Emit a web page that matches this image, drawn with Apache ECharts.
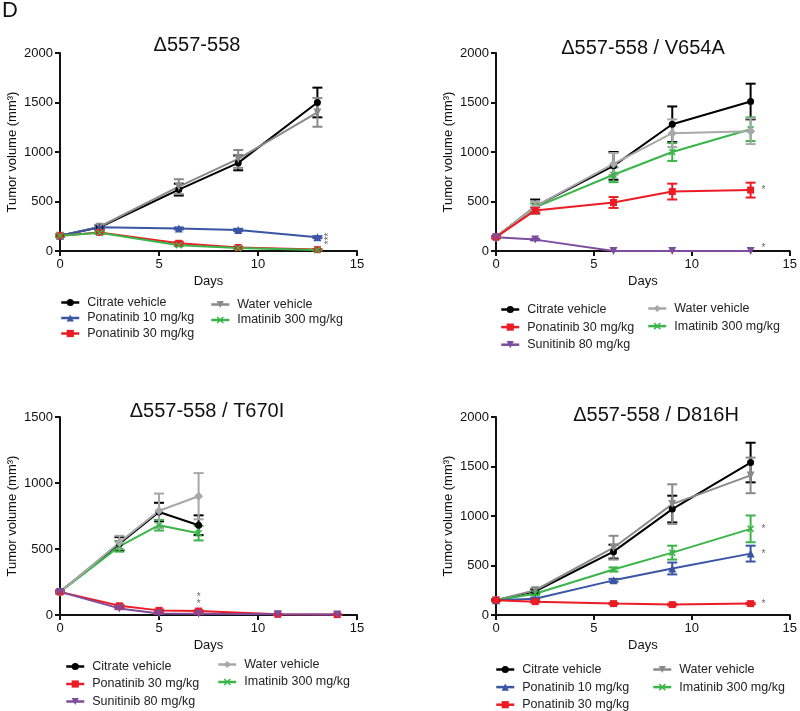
<!DOCTYPE html>
<html>
<head>
    <meta charset="utf-8">
    <title>Tumor volume - KIT mutants</title>
    <script src="https://cdn.jsdelivr.net/npm/echarts@6/dist/echarts.min.js"></script>
    <style>
        html, body { margin: 0; padding: 0; background: #fff; }
        #main { width: 800px; height: 711px; }
    </style>
</head>
<body>
    <div id="main"></div>

    <script>
    // ---- data ----
    // panel 1: Δ557-558
    const p1Days = [0, 2, 6, 9, 13];
    const p1Citrate = [155, 240, 620, 890, 1500];
    const p1CitrateErr = [10, 20, 60, 75, 150];
    const p1Water = [155, 245, 650, 930, 1400];
    const p1WaterErr = [10, 20, 75, 90, 145];
    const p1Pon10 = [155, 240, 228, 212, 140];
    const p1Pon10Err = [8, 12, 10, 12, 10];
    const p1Pon30 = [155, 188, 78, 35, 14];
    const p1Pon30Err = [8, 15, 15, 10, 5];
    const p1Ima = [155, 185, 58, 30, 10];
    const p1ImaErr = [8, 12, 10, 8, 4];
    const p1Stars = [[13.6, 128, '***']];

    // panel 2: Δ557-558 / V654A
    const p2Days = [0, 2, 6, 9, 13];
    const p2Citrate = [140, 450, 860, 1280, 1510];
    const p2CitrateErr = [10, 70, 140, 180, 180];
    const p2Water = [140, 450, 880, 1190, 1210];
    const p2WaterErr = [10, 50, 110, 140, 130];
    const p2Ima = [140, 440, 770, 1000, 1230];
    const p2ImaErr = [10, 40, 75, 90, 120];
    const p2Pon30 = [140, 410, 490, 600, 615];
    const p2Pon30Err = [10, 30, 55, 80, 75];
    const p2Suni = [140, 115, 0, 0, 0];
    const p2SuniErr = [8, 8, 0, 0, 0];
    const p2Stars = [[13.65, 612, '*'], [13.65, 30, '*']];

    // panel 3: Δ557-558 / T670I
    const p3DaysA = [0, 3, 5, 7];
    const p3DaysB = [0, 3, 5, 7, 11, 14];
    const p3Citrate = [175, 540, 780, 680];
    const p3CitrateErr = [10, 50, 70, 75];
    const p3Water = [175, 550, 790, 900];
    const p3WaterErr = [10, 50, 130, 175];
    const p3Ima = [175, 520, 680, 620];
    const p3ImaErr = [10, 40, 40, 55];
    const p3Pon30 = [175, 70, 35, 30, 5, 3];
    const p3Pon30Err = [8, 8, 6, 6, 3, 2];
    const p3Suni = [175, 50, 12, 10, 5, 3];
    const p3SuniErr = [8, 6, 4, 4, 2, 2];
    const p3Stars = [[7, 132, '*'], [7, 80, '*']];

    // panel 4: Δ557-558 / D816H
    const p4Days = [0, 2, 6, 9, 13];
    const p4Citrate = [150, 240, 640, 1070, 1540];
    const p4CitrateErr = [10, 20, 70, 135, 200];
    const p4Water = [150, 250, 680, 1120, 1410];
    const p4WaterErr = [10, 20, 120, 200, 180];
    const p4Ima = [150, 215, 460, 630, 870];
    const p4ImaErr = [8, 12, 20, 70, 135];
    const p4Pon10 = [150, 165, 350, 470, 620];
    const p4Pon10Err = [8, 10, 15, 60, 80];
    const p4Pon30 = [150, 135, 115, 105, 115];
    const p4Pon30Err = [8, 8, 8, 8, 8];
    const p4Stars = [[13.65, 870, '*'], [13.65, 618, '*'], [13.65, 112, '*']];

    const panelTitles = ['Δ557-558', 'Δ557-558 / V654A', 'Δ557-558 / T670I', 'Δ557-558 / D816H'];
    const xTicks = [0, 15, 5];          // min, max, interval
    const yMaxes = [2000, 2000, 1500, 2000];

    // ---- styles ----
    const C = {
        black: '#000000',
        gray: '#8a8a8a',
        lightGray: '#a8a8a8',
        blue: '#3a55a4',
        red: '#ec1c24',
        green: '#3ab54a',
        purple: '#7d4c9d'
    };
    const SYM = {
        down: 'path://M0,0L10,0L5,10Z',
        cross: 'path://M0,1.5L1.5,0L5,3.5L8.5,0L10,1.5L6.5,5L10,8.5L8.5,10L5,6.5L1.5,10L0,8.5L3.5,5Z'
    };
    const grids = [
        { left: 60, top: 53, width: 297, height: 198 },
        { left: 496, top: 53, width: 296, height: 198 },
        { left: 60, top: 417, width: 297, height: 198 },
        { left: 496, top: 417, width: 296, height: 198 }
    ];

    const series = [];

    function addLine(panel, name, days, vals, errs, color, symbol, size) {
        series.push({
            name: 'p' + panel + '|' + name,
            type: 'line',
            xAxisIndex: panel - 1,
            yAxisIndex: panel - 1,
            data: days.map((d, i) => [d, vals[i]]),
            symbol: symbol,
            symbolSize: size,
            showAllSymbol: true,
            lineStyle: { color: color, width: 2 },
            itemStyle: { color: color },
            z: 3
        });
        series.push({
            type: 'custom',
            xAxisIndex: panel - 1,
            yAxisIndex: panel - 1,
            data: days.map((d, i) => [d, vals[i], errs[i]]),
            itemStyle: { color: color },
            z: 2,
            renderItem: function (params, api) {
                const x = api.value(0), y = api.value(1), e = api.value(2);
                if (!e) return;
                const top = api.coord([x, y + e]);
                const bot = api.coord([x, Math.max(y - e, 0)]);
                const w = 5;
                const st = { stroke: color, lineWidth: 2 };
                return {
                    type: 'group',
                    children: [
                        { type: 'line', shape: { x1: top[0], y1: top[1], x2: bot[0], y2: bot[1] }, style: st },
                        { type: 'line', shape: { x1: top[0] - w, y1: top[1], x2: top[0] + w, y2: top[1] }, style: st },
                        { type: 'line', shape: { x1: bot[0] - w, y1: bot[1], x2: bot[0] + w, y2: bot[1] }, style: st }
                    ]
                };
            }
        });
    }

    function addStars(panel, stars, rotate) {
        series.push({
            type: 'scatter',
            xAxisIndex: panel - 1,
            yAxisIndex: panel - 1,
            data: stars,
            symbolSize: 1,
            itemStyle: { color: 'rgba(0,0,0,0)' },
            silent: true,
            label: {
                show: true,
                position: 'inside',
                formatter: p => p.value[2],
                fontSize: 10,
                color: '#444',
                rotate: rotate || 0,
                fontFamily: 'Liberation Sans, Arial, sans-serif'
            },
            z: 4
        });
    }

    // panel 1
    addLine(1, 'Citrate vehicle', p1Days, p1Citrate, p1CitrateErr, C.black, 'circle', 7);
    addLine(1, 'Water vehicle', p1Days, p1Water, p1WaterErr, C.gray, SYM.down, 8);
    addLine(1, 'Ponatinib 10 mg/kg', p1Days, p1Pon10, p1Pon10Err, C.blue, 'triangle', 8);
    addLine(1, 'Ponatinib 30 mg/kg', p1Days, p1Pon30, p1Pon30Err, C.red, 'rect', 7);
    addLine(1, 'Imatinib 300 mg/kg', p1Days, p1Ima, p1ImaErr, C.green, SYM.cross, 7);
    addStars(1, p1Stars, 90);

    // panel 2
    addLine(2, 'Citrate vehicle', p2Days, p2Citrate, p2CitrateErr, C.black, 'circle', 7);
    addLine(2, 'Imatinib 300 mg/kg', p2Days, p2Ima, p2ImaErr, C.green, SYM.cross, 7);
    addLine(2, 'Water vehicle', p2Days, p2Water, p2WaterErr, C.lightGray, 'diamond', 9);
    addLine(2, 'Ponatinib 30 mg/kg', p2Days, p2Pon30, p2Pon30Err, C.red, 'rect', 7);
    addLine(2, 'Sunitinib 80 mg/kg', p2Days, p2Suni, p2SuniErr, C.purple, SYM.down, 8);
    addStars(2, p2Stars);

    // panel 3
    addLine(3, 'Citrate vehicle', p3DaysA, p3Citrate, p3CitrateErr, C.black, 'circle', 7);
    addLine(3, 'Imatinib 300 mg/kg', p3DaysA, p3Ima, p3ImaErr, C.green, SYM.cross, 7);
    addLine(3, 'Water vehicle', p3DaysA, p3Water, p3WaterErr, C.lightGray, 'diamond', 9);
    addLine(3, 'Ponatinib 30 mg/kg', p3DaysB, p3Pon30, p3Pon30Err, C.red, 'rect', 7);
    addLine(3, 'Sunitinib 80 mg/kg', p3DaysB, p3Suni, p3SuniErr, C.purple, SYM.down, 8);
    addStars(3, p3Stars);

    // panel 4
    addLine(4, 'Citrate vehicle', p4Days, p4Citrate, p4CitrateErr, C.black, 'circle', 7);
    addLine(4, 'Water vehicle', p4Days, p4Water, p4WaterErr, C.gray, SYM.down, 8);
    addLine(4, 'Imatinib 300 mg/kg', p4Days, p4Ima, p4ImaErr, C.green, SYM.cross, 7);
    addLine(4, 'Ponatinib 10 mg/kg', p4Days, p4Pon10, p4Pon10Err, C.blue, 'triangle', 8);
    addLine(4, 'Ponatinib 30 mg/kg', p4Days, p4Pon30, p4Pon30Err, C.red, 'rect', 7);
    addStars(4, p4Stars);

    const FONT = 'Liberation Sans, Arial, sans-serif';
    const axisColor = '#111';

    const xAxes = grids.map((g, i) => ({
        type: 'value',
        gridIndex: i,
        min: xTicks[0], max: xTicks[1], interval: xTicks[2],
        name: 'Days',
        nameLocation: 'middle',
        nameGap: 24,
        nameTextStyle: { fontSize: 13, color: axisColor, fontFamily: FONT },
        axisLine: { onZero: false, lineStyle: { color: axisColor, width: 2 } },
        axisTick: { show: true, inside: false, length: 5, lineStyle: { width: 2, color: axisColor } },
        axisLabel: { fontSize: 13, color: axisColor, margin: 7, fontFamily: FONT, formatter: v => String(v) },
        splitLine: { show: false }
    }));

    const yAxes = grids.map((g, i) => ({
        type: 'value',
        gridIndex: i,
        min: 0, max: yMaxes[i], interval: 500,
        name: 'Tumor volume (mm³)',
        nameLocation: 'middle',
        nameGap: 41,
        nameRotate: 90,
        nameTextStyle: { fontSize: 13, color: axisColor, fontFamily: FONT },
        axisLine: { show: true, onZero: false, lineStyle: { color: axisColor, width: 2 } },
        axisTick: { show: true, inside: false, length: 5, lineStyle: { width: 2, color: axisColor } },
        axisLabel: { fontSize: 13, color: axisColor, margin: 7, fontFamily: FONT, formatter: v => String(v) },
        splitLine: { show: false }
    }));

    const titleCenters = [[197, 35], [643, 38], [207, 401], [656, 405]];
    const titles = [{
        text: 'D', left: 2, top: 0, padding: 0,
        textStyle: { fontSize: 22, fontWeight: 'normal', color: '#111', fontFamily: FONT }
    }].concat(panelTitles.map((t, i) => ({
        text: t,
        left: titleCenters[i][0],
        top: titleCenters[i][1],
        textAlign: 'center',
        padding: 0,
        textStyle: { fontSize: 20, fontWeight: 'normal', color: '#111', fontFamily: FONT }
    })));

    function legend(panel, names, left, top, gap) {
        return {
            data: names.map(n => 'p' + panel + '|' + n),
            formatter: n => n.split('|')[1],
            orient: 'vertical',
            left: left, top: top,
            height: 90,
            padding: 0,
            itemGap: gap,
            itemWidth: 18,
            itemHeight: 9,
            lineStyle: { width: 2.5 },
            selectedMode: false,
            textStyle: { fontSize: 12.5, color: '#222', lineHeight: 12, padding: [0, 0, 0, 3], fontFamily: FONT }
        };
    }

    const legends = [
        legend(1, ['Citrate vehicle', 'Ponatinib 10 mg/kg', 'Ponatinib 30 mg/kg'], 60, 296, 2.5),
        legend(1, ['Water vehicle', 'Imatinib 300 mg/kg'], 210, 298, 2.5),
        legend(2, ['Citrate vehicle', 'Ponatinib 30 mg/kg', 'Sunitinib 80 mg/kg'], 500, 303, 4.6),
        legend(2, ['Water vehicle', 'Imatinib 300 mg/kg'], 647, 302, 4.6),
        legend(3, ['Citrate vehicle', 'Ponatinib 30 mg/kg', 'Sunitinib 80 mg/kg'], 65, 660, 4.5),
        legend(3, ['Water vehicle', 'Imatinib 300 mg/kg'], 217, 658, 4.5),
        legend(4, ['Citrate vehicle', 'Ponatinib 10 mg/kg', 'Ponatinib 30 mg/kg'], 495, 663, 4.6),
        legend(4, ['Water vehicle', 'Imatinib 300 mg/kg'], 652, 663, 4.6)
    ];

    const chart = echarts.init(document.getElementById('main'));
    chart.setOption({
        animation: false,
        backgroundColor: '#fff',
        textStyle: { fontFamily: FONT },
        title: titles,
        legend: legends,
        grid: grids,
        xAxis: xAxes,
        yAxis: yAxes,
        series: series
    });
    </script>
</body>
</html>
